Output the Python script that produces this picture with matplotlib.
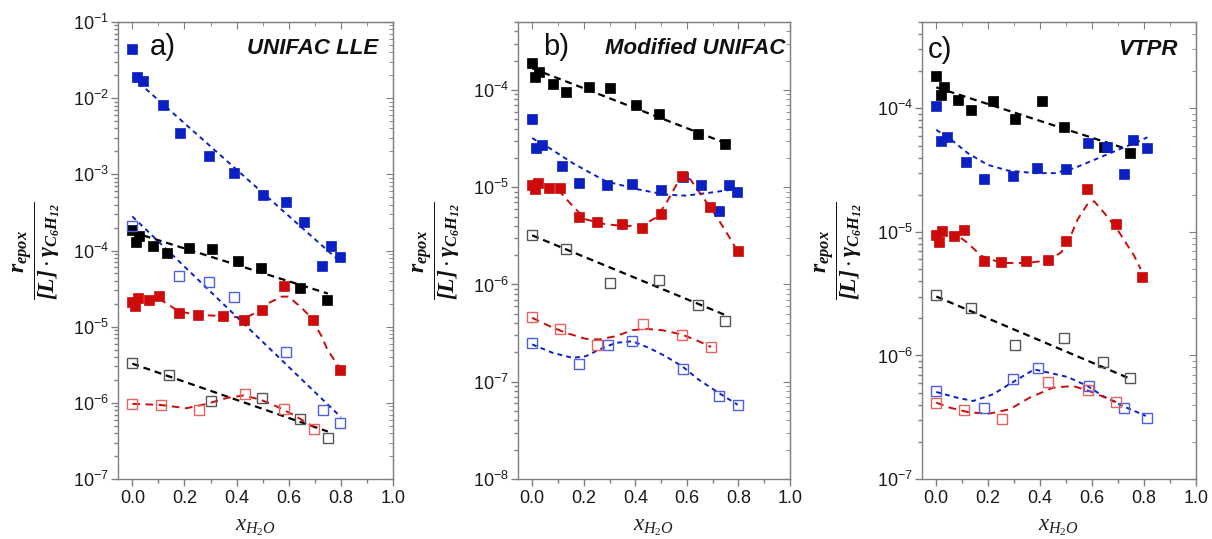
import numpy as np
import matplotlib
matplotlib.use("Agg")
import matplotlib.pyplot as plt
from matplotlib.ticker import LogLocator, FuncFormatter, MultipleLocator, NullFormatter

plt.rcParams['font.family'] = ['Liberation Sans', 'DejaVu Sans']
plt.rcParams['mathtext.fontset'] = 'custom'
plt.rcParams['mathtext.rm'] = 'Liberation Serif'
plt.rcParams['mathtext.it'] = 'Liberation Serif:italic'
plt.rcParams['mathtext.bf'] = 'Liberation Serif:bold:italic'
plt.rcParams['lines.scale_dashes'] = False

# ---------------- panel a) UNIFAC LLE ----------------
A_BLUE_X = [0.0, 0.018, 0.041, 0.116, 0.183, 0.295, 0.389, 0.500, 0.588, 0.659, 0.726, 0.762, 0.797]
A_BLUE_Y = [4.4e-2, 1.88e-2, 1.67e-2, 8.1e-3, 3.45e-3, 1.75e-3, 1.05e-3, 5.4e-4, 4.3e-4, 2.38e-4, 6.3e-5, 1.15e-4, 8.3e-5]
A_BLUE_FIT_X = [0.0, 0.8]
A_BLUE_FIT_Y = [1.9e-2, 7.0e-5]

A_BLACK_X = [0.0, 0.013, 0.026, 0.081, 0.132, 0.219, 0.305, 0.405, 0.492, 0.643, 0.746]
A_BLACK_Y = [1.86e-4, 1.31e-4, 1.56e-4, 1.15e-4, 9.2e-5, 1.07e-4, 1.04e-4, 7.2e-5, 5.9e-5, 3.26e-5, 2.25e-5]
A_BLACK_FIT_X = [0.0, 0.75]
A_BLACK_FIT_Y = [1.75e-4, 2.72e-5]

A_RED_X = [0.0, 0.01, 0.022, 0.064, 0.103, 0.18, 0.251, 0.347, 0.429, 0.499, 0.583, 0.692, 0.797]
A_RED_Y = [2.14e-5, 1.87e-5, 2.41e-5, 2.25e-5, 2.49e-5, 1.5e-5, 1.43e-5, 1.4e-5, 1.23e-5, 1.66e-5, 3.43e-5, 1.23e-5, 2.72e-6]
A_RED_FIT_X = [0.0, 0.019, 0.109, 0.18, 0.251, 0.38, 0.431, 0.483, 0.521, 0.573, 0.598, 0.644, 0.682, 0.727, 0.748, 0.80]
A_RED_FIT_Y = [2.2e-5, 2.25e-5, 2.25e-5, 1.58e-5, 1.43e-5, 1.36e-5, 1.29e-5, 1.58e-5, 2.03e-5, 2.48e-5, 2.48e-5, 1.84e-5, 1.36e-5, 7.4e-6, 5.0e-6, 2.7e-6]

A_BLUE_OPEN_X = [0.0, 0.18, 0.296, 0.389, 0.588, 0.73, 0.797]
A_BLUE_OPEN_Y = [2.1e-4, 4.6e-5, 3.9e-5, 2.48e-5, 4.7e-6, 8.0e-7, 5.4e-7]
A_BLUE_OPEN_FIT_X = [0.0, 0.8]
A_BLUE_OPEN_FIT_Y = [2.8e-4, 6.5e-7]

A_BLACK_OPEN_X = [0.0, 0.142, 0.302, 0.498, 0.643, 0.749]
A_BLACK_OPEN_Y = [3.33e-6, 2.34e-6, 1.07e-6, 1.16e-6, 6.1e-7, 3.47e-7]
A_BLACK_OPEN_FIT_X = [0.0, 0.75]
A_BLACK_OPEN_FIT_Y = [3.27e-6, 4.2e-7]

A_RED_OPEN_X = [0.0, 0.109, 0.254, 0.431, 0.582, 0.697]
A_RED_OPEN_Y = [9.6e-7, 9.4e-7, 8.1e-7, 1.3e-6, 8.3e-7, 4.58e-7]
A_RED_OPEN_FIT_X = [0.0, 0.106, 0.208, 0.286, 0.363, 0.427, 0.492, 0.556, 0.62, 0.697]
A_RED_OPEN_FIT_Y = [9.7e-7, 9.4e-7, 8.5e-7, 9.7e-7, 1.16e-6, 1.25e-6, 1.1e-6, 8.9e-7, 6.9e-7, 4.8e-7]

# ---------------- panel b) Modified UNIFAC ----------------
B_BLACK_X = [0.0, 0.01, 0.028, 0.08, 0.131, 0.221, 0.301, 0.404, 0.492, 0.644, 0.749]
B_BLACK_Y = [1.9e-4, 1.35e-4, 1.54e-4, 1.15e-4, 9.5e-5, 1.08e-4, 1.04e-4, 7.0e-5, 5.7e-5, 3.55e-5, 2.8e-5]
B_BLACK_FIT_X = [0.0, 0.75]
B_BLACK_FIT_Y = [1.67e-4, 2.84e-5]

B_BLUE_X = [0.0, 0.015, 0.039, 0.115, 0.18, 0.292, 0.389, 0.498, 0.584, 0.656, 0.723, 0.762, 0.794]
B_BLUE_Y = [5.0e-5, 2.53e-5, 2.7e-5, 1.67e-5, 1.1e-5, 1.05e-5, 1.08e-5, 9.3e-6, 1.28e-5, 1.05e-5, 5.7e-6, 1.06e-5, 8.9e-6]
B_BLUE_FIT_X = [0.0, 0.067, 0.157, 0.286, 0.414, 0.517, 0.595, 0.685, 0.775, 0.79]
B_BLUE_FIT_Y = [3.2e-5, 2.53e-5, 1.77e-5, 1.15e-5, 9.46e-6, 8.4e-6, 8.2e-6, 8.75e-6, 9.46e-6, 9.6e-6]

B_RED_X = [0.0, 0.01, 0.022, 0.064, 0.106, 0.183, 0.251, 0.347, 0.427, 0.5, 0.582, 0.691, 0.797]
B_RED_Y = [1.06e-5, 9.5e-6, 1.1e-5, 9.8e-6, 9.8e-6, 4.97e-6, 4.4e-6, 4.15e-6, 3.8e-6, 5.25e-6, 1.3e-5, 6.3e-6, 2.2e-6]
B_RED_FIT_X = [0.0, 0.106, 0.157, 0.208, 0.286, 0.363, 0.427, 0.479, 0.517, 0.556, 0.582, 0.614, 0.659, 0.71, 0.762, 0.788]
B_RED_FIT_Y = [1.08e-5, 9.1e-6, 6.4e-6, 4.67e-6, 4.15e-6, 3.99e-6, 4.05e-6, 4.85e-6, 6.65e-6, 1.02e-5, 1.35e-5, 1.2e-5, 8.1e-6, 5.25e-6, 3.15e-6, 2.4e-6]

B_BLACK_OPEN_X = [0.0, 0.131, 0.301, 0.492, 0.644, 0.749]
B_BLACK_OPEN_Y = [3.2e-6, 2.34e-6, 1.04e-6, 1.12e-6, 6.2e-7, 4.2e-7]
B_BLACK_OPEN_FIT_X = [0.0, 0.745]
B_BLACK_OPEN_FIT_Y = [3.2e-6, 4.9e-7]

B_RED_OPEN_X = [0.0, 0.106, 0.25, 0.43, 0.582, 0.694]
B_RED_OPEN_Y = [4.65e-7, 3.5e-7, 2.38e-7, 3.97e-7, 3.05e-7, 2.28e-7]
B_RED_OPEN_FIT_X = [0.0, 0.067, 0.131, 0.208, 0.26, 0.324, 0.389, 0.44, 0.504, 0.582, 0.646, 0.694]
B_RED_OPEN_FIT_Y = [4.54e-7, 3.73e-7, 3.18e-7, 2.76e-7, 2.72e-7, 2.94e-7, 3.39e-7, 3.5e-7, 3.39e-7, 3.05e-7, 2.61e-7, 2.28e-7]

B_BLUE_OPEN_X = [0.0, 0.18, 0.296, 0.389, 0.584, 0.723, 0.797]
B_BLUE_OPEN_Y = [2.51e-7, 1.54e-7, 2.41e-7, 2.61e-7, 1.35e-7, 7.2e-8, 5.8e-8]
B_BLUE_OPEN_FIT_X = [0.0, 0.08, 0.157, 0.208, 0.26, 0.324, 0.389, 0.453, 0.517, 0.582, 0.646, 0.723, 0.797]
B_BLUE_OPEN_FIT_Y = [2.42e-7, 1.98e-7, 1.76e-7, 1.83e-7, 2.14e-7, 2.51e-7, 2.61e-7, 2.23e-7, 1.83e-7, 1.44e-7, 1.05e-7, 7.7e-8, 5.8e-8]

# ---------------- panel c) VTPR ----------------
C_BLACK_X = [0.0, 0.017, 0.029, 0.083, 0.134, 0.22, 0.305, 0.406, 0.493, 0.647, 0.746]
C_BLACK_Y = [1.83e-4, 1.28e-4, 1.5e-4, 1.17e-4, 9.7e-5, 1.15e-4, 8.2e-5, 1.15e-4, 7.0e-5, 4.9e-5, 4.34e-5]
C_BLACK_FIT_X = [0.0, 0.746]
C_BLACK_FIT_Y = [1.48e-4, 4.6e-5]

C_BLUE_X = [0.0, 0.019, 0.041, 0.115, 0.182, 0.294, 0.388, 0.499, 0.586, 0.657, 0.721, 0.759, 0.813]
C_BLUE_Y = [1.04e-4, 5.4e-5, 5.9e-5, 3.65e-5, 2.68e-5, 2.81e-5, 3.28e-5, 3.24e-5, 5.22e-5, 4.9e-5, 2.95e-5, 5.5e-5, 4.8e-5]
C_BLUE_FIT_X = [0.0, 0.058, 0.122, 0.198, 0.275, 0.378, 0.455, 0.531, 0.608, 0.685, 0.762, 0.813]
C_BLUE_FIT_Y = [6.7e-5, 5.56e-5, 4.33e-5, 3.49e-5, 3.14e-5, 2.99e-5, 2.99e-5, 3.28e-5, 3.83e-5, 4.48e-5, 5.22e-5, 5.83e-5]

C_RED_X = [0.0, 0.009, 0.022, 0.067, 0.106, 0.183, 0.25, 0.347, 0.429, 0.499, 0.58, 0.691, 0.791]
C_RED_Y = [9.5e-6, 8.3e-6, 1.01e-5, 9.2e-6, 1.03e-5, 5.8e-6, 5.7e-6, 5.8e-6, 5.9e-6, 8.4e-6, 2.23e-5, 1.16e-5, 4.3e-6]
C_RED_FIT_X = [0.0, 0.07, 0.122, 0.173, 0.25, 0.352, 0.429, 0.48, 0.506, 0.544, 0.583, 0.608, 0.647, 0.698, 0.762, 0.787]
C_RED_FIT_Y = [1.0e-5, 9.8e-6, 8.1e-6, 6.4e-6, 5.6e-6, 5.6e-6, 5.9e-6, 6.8e-6, 8.1e-6, 1.26e-5, 1.69e-5, 1.77e-5, 1.42e-5, 1.04e-5, 6.4e-6, 5.0e-6]

C_BLACK_OPEN_X = [0.0, 0.134, 0.305, 0.493, 0.643, 0.746]
C_BLACK_OPEN_Y = [3.1e-6, 2.42e-6, 1.21e-6, 1.39e-6, 8.9e-7, 6.6e-7]
C_BLACK_OPEN_FIT_X = [0.0, 0.745]
C_BLACK_OPEN_FIT_Y = [3.0e-6, 6.5e-7]

C_BLUE_OPEN_X = [0.0, 0.182, 0.294, 0.39, 0.589, 0.723, 0.813]
C_BLUE_OPEN_Y = [5.2e-7, 3.78e-7, 6.5e-7, 7.95e-7, 5.67e-7, 3.74e-7, 3.14e-7]
C_BLUE_OPEN_FIT_X = [0.0, 0.078, 0.142, 0.219, 0.27, 0.377, 0.403, 0.505, 0.582, 0.641, 0.718, 0.807]
C_BLUE_OPEN_FIT_Y = [5.06e-7, 4.56e-7, 4.28e-7, 4.85e-7, 5.66e-7, 7.7e-7, 7.5e-7, 6.7e-7, 5.67e-7, 4.7e-7, 3.9e-7, 3.24e-7]

C_RED_OPEN_X = [0.0, 0.105, 0.252, 0.429, 0.583, 0.691]
C_RED_OPEN_Y = [4.1e-7, 3.6e-7, 3.05e-7, 6.1e-7, 5.3e-7, 4.2e-7]
C_RED_OPEN_FIT_X = [0.0, 0.052, 0.129, 0.206, 0.283, 0.36, 0.449, 0.526, 0.59, 0.692]
C_RED_OPEN_FIT_Y = [4.15e-7, 3.78e-7, 3.45e-7, 3.39e-7, 3.67e-7, 4.56e-7, 5.48e-7, 5.66e-7, 5.15e-7, 4.2e-7]

PANEL_TAGS = ['a)', 'b)', 'c)']
MODEL_NAMES = ['UNIFAC LLE', 'Modified UNIFAC', 'VTPR']
Y_LIMITS = [(1e-7, 1e-1), (1e-8, 5e-4), (1e-7, 5e-4)]
X_TICKS = [0.0, 0.2, 0.4, 0.6, 0.8, 1.0]

# ---------------- styling ----------------
BLUE = '#0b20c2'
RED = '#cc0b0b'
BLACK = '#000000'
BLUE_OPEN = '#4d60e4'
RED_OPEN = '#ea5f5f'
BLACK_OPEN = '#555555'
SPINE = '#808080'

DASH = {
    'blue': (3.5, 3.0),
    'red': (5.5, 4.0),
    'black': (5.0, 3.5),
}
LW = {'blue': 1.4, 'red': 1.4, 'black': 1.6}

fig = plt.figure(figsize=(12.12, 5.39), dpi=100)
axes_rects = [
    [118 / 1212, 60 / 539, 275 / 1212, 457 / 539],
    [518 / 1212, 60 / 539, 272 / 1212, 457 / 539],
    [922 / 1212, 60 / 539, 274 / 1212, 457 / 539],
]

panel_series = [
    [
        (A_BLUE_X, A_BLUE_Y, A_BLUE_FIT_X, A_BLUE_FIT_Y, BLUE, BLUE, 'blue', True),
        (A_BLACK_X, A_BLACK_Y, A_BLACK_FIT_X, A_BLACK_FIT_Y, BLACK, BLACK, 'black', True),
        (A_RED_X, A_RED_Y, A_RED_FIT_X, A_RED_FIT_Y, RED, RED, 'red', True),
        (A_BLUE_OPEN_X, A_BLUE_OPEN_Y, A_BLUE_OPEN_FIT_X, A_BLUE_OPEN_FIT_Y, BLUE, BLUE_OPEN, 'blue', False),
        (A_BLACK_OPEN_X, A_BLACK_OPEN_Y, A_BLACK_OPEN_FIT_X, A_BLACK_OPEN_FIT_Y, BLACK, BLACK_OPEN, 'black', False),
        (A_RED_OPEN_X, A_RED_OPEN_Y, A_RED_OPEN_FIT_X, A_RED_OPEN_FIT_Y, RED, RED_OPEN, 'red', False),
    ],
    [
        (B_BLACK_X, B_BLACK_Y, B_BLACK_FIT_X, B_BLACK_FIT_Y, BLACK, BLACK, 'black', True),
        (B_BLUE_X, B_BLUE_Y, B_BLUE_FIT_X, B_BLUE_FIT_Y, BLUE, BLUE, 'blue', True),
        (B_RED_X, B_RED_Y, B_RED_FIT_X, B_RED_FIT_Y, RED, RED, 'red', True),
        (B_BLACK_OPEN_X, B_BLACK_OPEN_Y, B_BLACK_OPEN_FIT_X, B_BLACK_OPEN_FIT_Y, BLACK, BLACK_OPEN, 'black', False),
        (B_RED_OPEN_X, B_RED_OPEN_Y, B_RED_OPEN_FIT_X, B_RED_OPEN_FIT_Y, RED, RED_OPEN, 'red', False),
        (B_BLUE_OPEN_X, B_BLUE_OPEN_Y, B_BLUE_OPEN_FIT_X, B_BLUE_OPEN_FIT_Y, BLUE, BLUE_OPEN, 'blue', False),
    ],
    [
        (C_BLACK_X, C_BLACK_Y, C_BLACK_FIT_X, C_BLACK_FIT_Y, BLACK, BLACK, 'black', True),
        (C_BLUE_X, C_BLUE_Y, C_BLUE_FIT_X, C_BLUE_FIT_Y, BLUE, BLUE, 'blue', True),
        (C_RED_X, C_RED_Y, C_RED_FIT_X, C_RED_FIT_Y, RED, RED, 'red', True),
        (C_BLACK_OPEN_X, C_BLACK_OPEN_Y, C_BLACK_OPEN_FIT_X, C_BLACK_OPEN_FIT_Y, BLACK, BLACK_OPEN, 'black', False),
        (C_BLUE_OPEN_X, C_BLUE_OPEN_Y, C_BLUE_OPEN_FIT_X, C_BLUE_OPEN_FIT_Y, BLUE, BLUE_OPEN, 'blue', False),
        (C_RED_OPEN_X, C_RED_OPEN_Y, C_RED_OPEN_FIT_X, C_RED_OPEN_FIT_Y, RED, RED_OPEN, 'red', False),
    ],
]

tag_pos = [(0.116, 0.945), (0.092, 0.945), (0.022, 0.939)]
name_pos = [(0.945, 0.941), (0.982, 0.943), (0.934, 0.939)]
ylabel_x = [-0.205, -0.205, -0.212]


def decade_label(v, _):
    if v <= 0:
        return ''
    e = int(round(np.log10(v)))
    if not np.isclose(v, 10.0 ** e):
        return ''
    return r'$\mathregular{10^{%d}}$' % e


for i, rect in enumerate(axes_rects):
    ax = fig.add_axes(rect)
    for (x, y, fx, fy, lc, mc, kind, filled) in panel_series[i]:
        ax.plot(fx, fy, linestyle=(0, DASH[kind]), color=lc, lw=LW[kind], zorder=2)
    for (x, y, fx, fy, lc, mc, kind, filled) in panel_series[i]:
        if filled:
            ax.plot(x, y, linestyle='none', marker='s', ms=7.6, mfc=mc,
                    mec=mc, mew=0.5, zorder=3)
        else:
            ax.plot(x, y, linestyle='none', marker='s', ms=7.8, mfc='none',
                    mec=mc, mew=1.0, zorder=3)

    ax.set_yscale('log')
    ax.set_ylim(*Y_LIMITS[i])
    ax.set_xlim(-0.055, 1.0)
    ax.set_xticks(X_TICKS)
    ax.set_xticklabels(['%.1f' % t for t in X_TICKS])
    ax.xaxis.set_minor_locator(MultipleLocator(0.1))
    ax.yaxis.set_major_locator(LogLocator(base=10, numticks=20))
    ax.yaxis.set_minor_locator(LogLocator(base=10, subs=np.arange(2, 10), numticks=40))
    ax.yaxis.set_major_formatter(FuncFormatter(decade_label))
    ax.yaxis.set_minor_formatter(NullFormatter())

    for s in ax.spines.values():
        s.set_color(SPINE)
        s.set_linewidth(1.0)
    ax.tick_params(which='both', color=SPINE, width=1.0, labelcolor='#1a1a1a')
    ax.tick_params(axis='both', which='major', labelsize=13)
    ax.tick_params(axis='x', which='major', direction='out', length=5, pad=3,
                   top=False)
    ax.tick_params(axis='x', which='minor', direction='out', length=3, top=False)
    ax.tick_params(axis='y', which='major', direction='out', length=5, pad=1.5,
                   right=False)
    ax.tick_params(axis='y', which='minor', direction='out', length=3, right=False)

    # inward mirror ticks on top and right
    sx = ax.secondary_xaxis('top')
    sx.set_xticks(X_TICKS)
    sx.xaxis.set_minor_locator(MultipleLocator(0.1))
    sx.tick_params(which='both', direction='in', color=SPINE, labeltop=False)
    sx.tick_params(which='major', length=5)
    sx.tick_params(which='minor', length=3)
    sx.spines['top'].set_color(SPINE)
    sy = ax.secondary_yaxis('right')
    sy.yaxis.set_major_locator(LogLocator(base=10, numticks=20))
    sy.yaxis.set_minor_locator(LogLocator(base=10, subs=np.arange(2, 10), numticks=40))
    sy.tick_params(which='both', direction='in', color=SPINE, labelright=False)
    sy.tick_params(which='major', length=5)
    sy.tick_params(which='minor', length=3)
    sy.spines['right'].set_color(SPINE)

    ax.text(tag_pos[i][0], tag_pos[i][1], PANEL_TAGS[i], transform=ax.transAxes,
            fontsize=21, ha='left', va='center', color='#111111')
    ax.text(name_pos[i][0], name_pos[i][1], MODEL_NAMES[i], transform=ax.transAxes,
            fontsize=16, fontweight='bold', fontstyle='italic', ha='right',
            va='center', color='#111111')

    ax.set_xlabel(r'$x_{H_2O}$', fontsize=16.5, color='#222222')
    ax.xaxis.set_label_coords(0.5, -0.078)
    ax.set_ylabel(r'$\dfrac{\mathbf{r_{epox}}}{\mathbf{[L]\cdot\gamma_{C_6H_{12}}}}$',
                  fontsize=17, color='#111111')
    ax.yaxis.set_label_coords(ylabel_x[i], 0.5)

fig.savefig('out.png', dpi=100)
